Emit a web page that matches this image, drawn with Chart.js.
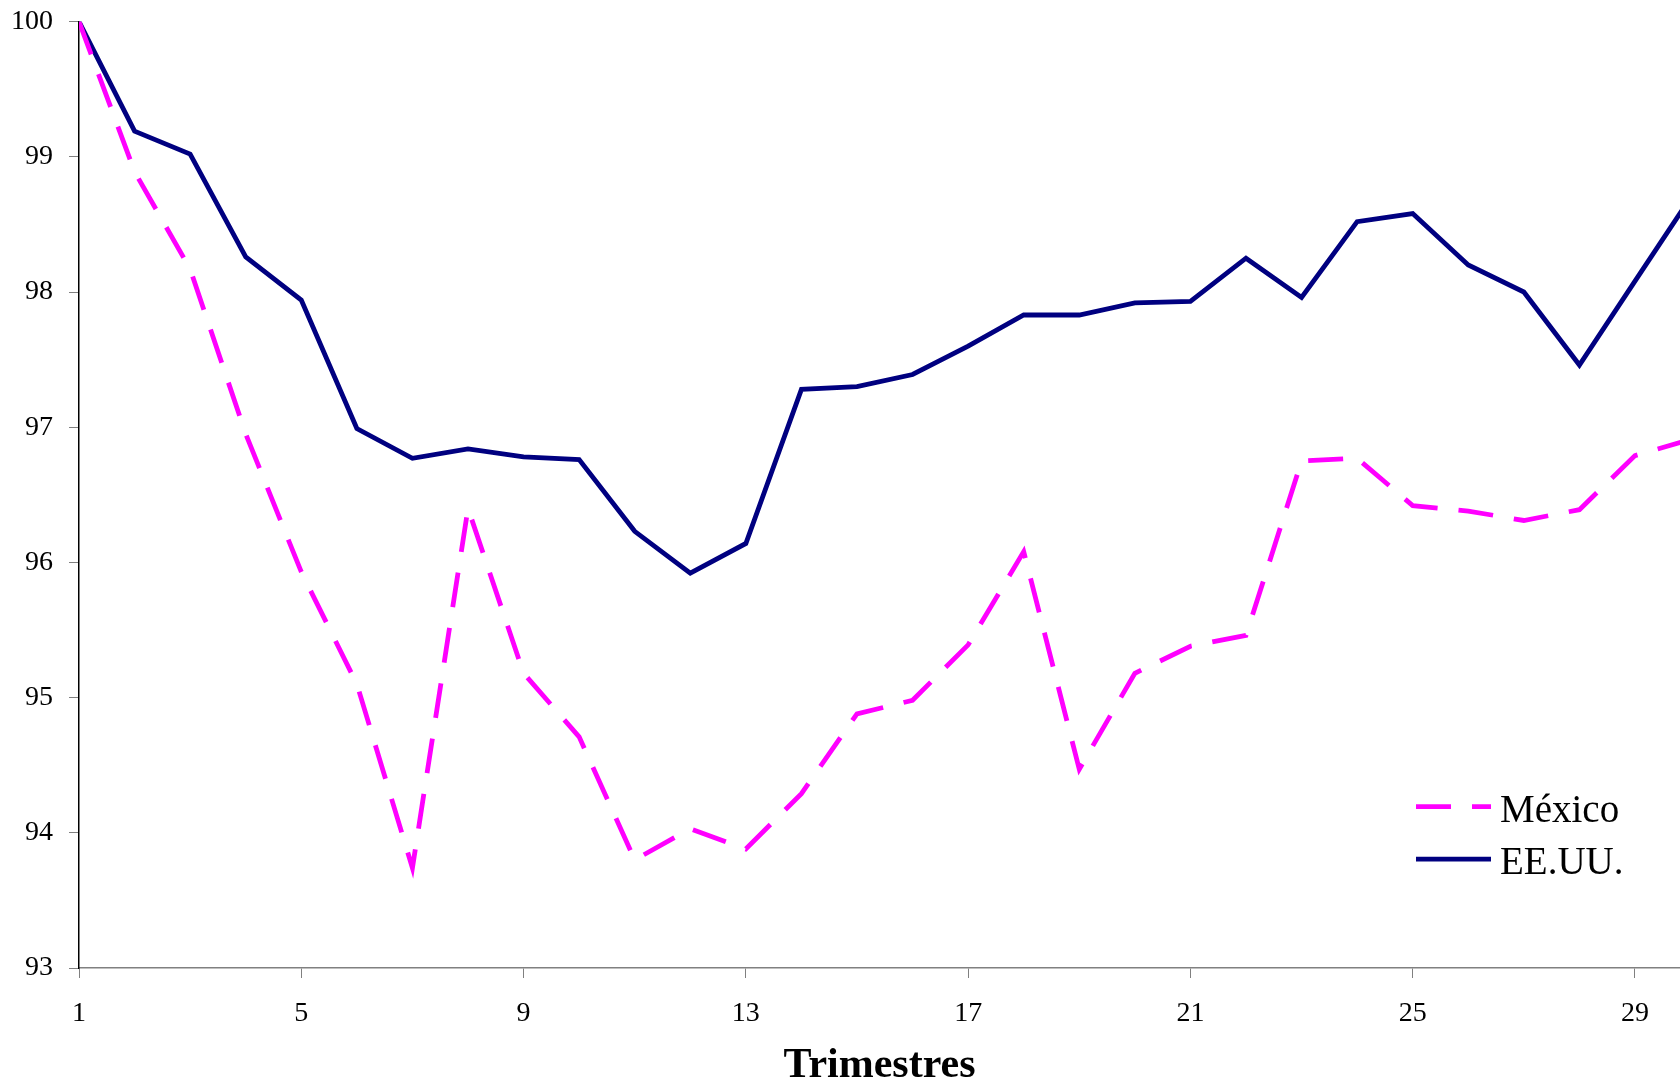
<!DOCTYPE html>
<html>
<head>
<meta charset="utf-8">
<script src="https://cdn.jsdelivr.net/npm/chart.js@4.4.1/dist/chart.umd.min.js"></script>
<style>
  html, body { margin: 0; padding: 0; background: #fff; overflow: hidden; }
  #wrap { width: 1680px; height: 1079px; position: relative; }
</style>
</head>
<body>
<div id="wrap"><canvas id="chart"></canvas></div>
<script>
// Índice trimestral, base 100 en el trimestre 1.
const quarters = [1, 2, 3, 4, 5, 6, 7, 8, 9, 10, 11, 12, 13, 14, 15,
                  16, 17, 18, 19, 20, 21, 22, 23, 24, 25, 26, 27, 28, 29, 30];
const mexico = [100, 98.89, 98.17, 96.95, 95.93, 95.10, 93.74, 96.40, 95.18, 94.71,
                93.80, 94.03, 93.88, 94.29, 94.88, 94.98, 95.39, 96.08, 94.47, 95.18,
                95.38, 95.46, 96.75, 96.77, 96.42, 96.38, 96.31, 96.39, 96.79, 96.91];
const eeuu = [100, 99.19, 99.02, 98.26, 97.94, 96.99, 96.77, 96.84, 96.78, 96.76,
              96.23, 95.92, 96.14, 97.28, 97.30, 97.39, 97.60, 97.83, 97.83, 97.92,
              97.93, 98.25, 97.96, 98.52, 98.58, 98.20, 98.00, 97.46, 98.08, 98.70];
const seriesNames = ["México", "EE.UU."];
const xTicks = [1, 5, 9, 13, 17, 21, 25, 29];
const yMin = 93, yMax = 100;
const xMax = 29.81; // the original picture is cut just short of quarter 30

const SERIF = "'Liberation Serif', 'DejaVu Serif', serif";
const MAGENTA = "#FF00FF";
const NAVY = "#000080";
const AXIS_GRAY = "#808080";

const toPoints = (vals) => quarters.map((q, i) => ({ x: q, y: vals[i] }));

// legend drawn inside the plot, lower right
const insideLegend = {
  id: "insideLegend",
  afterDatasetsDraw(chart) {
    const { ctx, chartArea: a } = chart;
    const x0 = a.left + 1337;
    const rowY = [a.top + 785, a.top + 837.5];
    ctx.save();
    chart.data.datasets.forEach((ds, i) => {
      const y = rowY[i];
      ctx.beginPath();
      ctx.setLineDash(ds.borderDash || []);
      ctx.lineWidth = ds.borderWidth;
      ctx.strokeStyle = ds.borderColor;
      ctx.moveTo(x0, y);
      ctx.lineTo(x0 + 75, y);
      ctx.stroke();
      ctx.setLineDash([]);
      ctx.fillStyle = "#000";
      ctx.font = "39px " + SERIF;
      ctx.textAlign = "left";
      ctx.textBaseline = "alphabetic";
      ctx.fillText(ds.label, x0 + 84, y + 15);
    });
    ctx.restore();
  },
};

new Chart(document.getElementById("chart"), {
  type: "line",
  data: {
    datasets: [
      {
        label: seriesNames[0],
        data: toPoints(mexico),
        borderColor: MAGENTA,
        borderWidth: 4.8,
        borderDash: [35, 21],
        pointRadius: 0,
        tension: 0,
        fill: false,
      },
      {
        label: seriesNames[1],
        data: toPoints(eeuu),
        borderColor: NAVY,
        borderWidth: 4.8,
        pointRadius: 0,
        tension: 0,
        fill: false,
      },
    ],
  },
  options: {
    responsive: true,
    maintainAspectRatio: false,
    animation: false,
    layout: { padding: { top: 21.5, right: 0, left: 0, bottom: 0 } },
    plugins: { legend: { display: false }, tooltip: { enabled: false } },
    scales: {
      x: {
        type: "linear",
        min: 1,
        max: xMax,
        afterBuildTicks: (s) => { s.ticks = xTicks.map((v) => ({ value: v })); },
        afterFit: (s) => { s.height = 111; },
        grid: { drawOnChartArea: false, drawTicks: true, tickLength: 10, color: AXIS_GRAY },
        border: { display: true, color: AXIS_GRAY, width: 1.5 },
        ticks: { color: "#000", padding: 19, font: { family: SERIF, size: 28 }, maxRotation: 0, autoSkip: false },
        title: {
          display: true,
          text: "Trimestres",
          color: "#000",
          font: { family: SERIF, size: 42, weight: "bold", lineHeight: 0.8 },
          padding: { top: 0, bottom: -4 },
        },
      },
      y: {
        min: yMin,
        max: yMax,
        afterFit: (s) => { s.width = 79; },
        grid: { drawOnChartArea: false, drawTicks: true, tickLength: 10, color: AXIS_GRAY },
        border: { display: true, color: "#000", width: 1.5 },
        ticks: { stepSize: 1, color: "#000", padding: 16, font: { family: SERIF, size: 28, lineHeight: 0.4 } },
      },
    },
  },
  plugins: [insideLegend],
});
</script>
</body>
</html>
